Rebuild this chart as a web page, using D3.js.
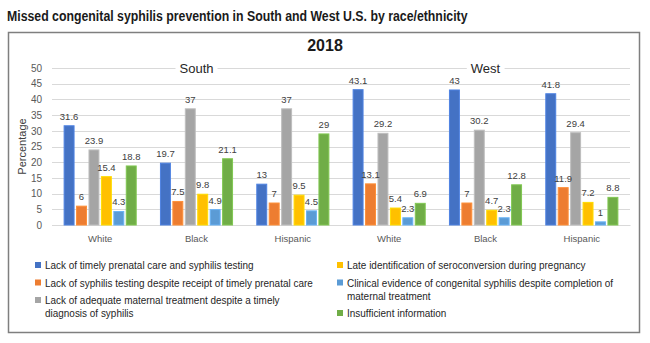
<!DOCTYPE html>
<html>
<head>
<meta charset="utf-8">
<script src="https://cdn.jsdelivr.net/npm/d3@7"></script>
<style>
  body { margin: 0; background: #ffffff; }
  svg { display: block; }
</style>
</head>
<body>
<div id="chart"></div>
<script>
const regions = ["South", "West"];
const races = ["White", "Black", "Hispanic"];
const yTicks = [0, 5, 10, 15, 20, 25, 30, 35, 40, 45, 50];

const seriesNames = [
  "Lack of timely prenatal care and syphilis testing",
  "Lack of syphilis testing despite receipt of timely prenatal care",
  "Lack of adequate maternal treatment despite a timely diagnosis of syphilis",
  "Late identification of seroconversion during pregnancy",
  "Clinical evidence of congenital syphilis despite completion of maternal treatment",
  "Insufficient information"
];
const seriesColors = ["#4472c4", "#ed7d31", "#a5a5a5", "#ffc000", "#5b9bd5", "#70ad47"];

// values per series, groups = South White, Black, Hispanic, West White, Black, Hispanic
const noPrenatalCare = [31.6, 19.7, 13, 43.1, 43, 41.8];
const noTesting = [6, 7.5, 7, 13.1, 7, 11.9];
const noTreatment = [23.9, 37, 37, 29.2, 30.2, 29.4];
const lateSeroconversion = [15.4, 9.8, 9.5, 5.4, 4.7, 7.2];
const clinicalEvidence = [4.3, 4.9, 4.5, 2.3, 2.3, 1];
const insufficientInfo = [18.8, 21.1, 29, 6.9, 12.8, 8.8];
const seriesValues = [noPrenatalCare, noTesting, noTreatment, lateSeroconversion, clinicalEvidence, insufficientInfo];

// legend lines (wrapped as in the original)
const legendLeft = [
  [0, ["Lack of timely prenatal care and syphilis testing"]],
  [1, ["Lack of syphilis testing despite receipt of timely prenatal care"]],
  [2, ["Lack of adequate maternal treatment despite a timely", "diagnosis of syphilis"]]
];
const legendRight = [
  [3, ["Late identification of seroconversion during pregnancy"]],
  [4, ["Clinical evidence of congenital syphilis despite completion of", "maternal treatment"]],
  [5, ["Insufficient information"]]
];

const W = 650, H = 343;
const plain = "'Liberation Sans', Arial, sans-serif";

const svg = d3.select("#chart").append("svg")
  .attr("width", W)
  .attr("height", H);

// Page title: no narrow font installed, so squeeze the regular one horizontally
const titleG = svg.append("g");
const title = titleG.append("text")
  .style("font-family", plain)
  .style("font-weight", "700")
  .style("font-size", "14.5px")
  .style("fill", "#1a1a1a")
  .text("Missed congenital syphilis prevention in South and West U.S. by race/ethnicity");
const titleSqueeze = 461 / title.node().getComputedTextLength();
titleG.attr("transform", `translate(7,21) scale(${titleSqueeze},1)`);

// Frame
svg.append("rect")
  .attr("x", 8.5)
  .attr("y", 32.5)
  .attr("width", 631)
  .attr("height", 300)
  .attr("fill", "none")
  .attr("stroke", "#7f7f7f")
  .attr("stroke-width", 1.5);

svg.append("text")
  .attr("x", 325)
  .attr("y", 51)
  .attr("text-anchor", "middle")
  .style("font-family", plain)
  .style("font-weight", "700")
  .style("font-size", "16px")
  .style("fill", "#1a1a1a")
  .text("2018");

// Scales
const groups = d3.range(regions.length * races.length);
const x0 = d3.scaleBand()
  .domain(groups)
  .range([52, 630])
  .paddingInner(0.2)
  .paddingOuter(0.1);

const x1 = d3.scaleBand()
  .domain(d3.range(seriesNames.length))
  .range([0, x0.bandwidth()])
  .padding(0.2);

const y = d3.scaleLinear()
  .domain([0, 50])
  .range([225, 68]);

// Gridlines
svg.append("g")
  .selectAll("line")
  .data(yTicks)
  .enter()
  .append("line")
  .attr("x1", 52)
  .attr("x2", 630)
  .attr("y1", d => Math.round(y(d)) + 0.5)
  .attr("y2", d => Math.round(y(d)) + 0.5)
  .attr("stroke", "#d9d9d9")
  .attr("stroke-width", 1);

// Y axis labels
const yAxis = svg.append("g")
  .attr("transform", "translate(52,0)")
  .call(d3.axisLeft(y).tickValues(yTicks).tickSize(0).tickPadding(10));
yAxis.select(".domain").remove();
yAxis.selectAll("text")
  .style("font-family", plain)
  .style("font-size", "10px")
  .style("fill", "#595959");

svg.append("text")
  .attr("transform", `translate(26,${(y(0) + y(50)) / 2}) rotate(-90)`)
  .attr("text-anchor", "middle")
  .style("font-family", plain)
  .style("font-size", "11px")
  .style("fill", "#404040")
  .text("Percentage");

// Region labels with white backing over the top gridline
const regionG = svg.append("g");
regions.forEach((r, i) => {
  const cx = x0(i * races.length + 1) + x0.bandwidth() / 2;
  const back = regionG.append("rect").attr("fill", "#ffffff");
  const t = regionG.append("text")
    .attr("x", cx)
    .attr("y", y(50) + 4.5)
    .attr("text-anchor", "middle")
    .style("font-family", plain)
    .style("font-size", "13px")
    .style("fill", "#262626")
    .text(r);
  const bb = t.node().getBBox();
  back.attr("x", bb.x - 4)
    .attr("y", bb.y)
    .attr("width", bb.width + 8)
    .attr("height", bb.height);
});

// X axis category labels
const xAxis = svg.append("g")
  .attr("transform", `translate(0,${y(0)})`)
  .call(d3.axisBottom(x0).tickSize(0).tickPadding(10)
    .tickFormat(d => races[d % races.length]));
xAxis.select(".domain").attr("stroke", "#d9d9d9");
xAxis.selectAll("text")
  .style("font-family", plain)
  .style("font-size", "9.5px")
  .style("fill", "#595959");

// Bars
const barData = [];
groups.forEach(g => {
  seriesValues.forEach((vals, s) => {
    barData.push({ g, s, v: vals[g] });
  });
});

svg.append("g")
  .selectAll("rect")
  .data(barData)
  .enter()
  .append("rect")
  .attr("x", d => x0(d.g) + x1(d.s))
  .attr("y", d => y(d.v))
  .attr("width", x1.bandwidth())
  .attr("height", d => y(0) - y(d.v))
  .attr("fill", d => seriesColors[d.s])
  .attr("stroke", d => d3.color(seriesColors[d.s]).brighter(0.4))
  .attr("stroke-width", 1);

// Data labels
svg.append("g")
  .selectAll("text")
  .data(barData)
  .enter()
  .append("text")
  .attr("x", d => x0(d.g) + x1(d.s) + x1.bandwidth() / 2)
  .attr("y", d => y(d.v) - 6)
  .attr("text-anchor", "middle")
  .style("font-family", plain)
  .style("font-size", "9.5px")
  .style("fill", "#404040")
  .text(d => d.v);

// Legend: condensed text, squeezed by the same factor everywhere
const legendG = svg.append("g");
const probe = legendG.append("text")
  .style("font-family", plain)
  .style("font-size", "11.5px")
  .text(legendLeft[1][1][0]);
const squeeze = 268 / probe.node().getComputedTextLength();
probe.remove();

const drawLegend = (items, sqX, startY) => {
  let yy = startY;
  items.forEach(([s, lines]) => {
    legendG.append("rect")
      .attr("x", sqX)
      .attr("y", yy - 3)
      .attr("width", 6)
      .attr("height", 6)
      .attr("fill", seriesColors[s]);
    lines.forEach((ln, i) => {
      legendG.append("g")
        .attr("transform", `translate(${sqX + 10},${yy + 4 + i * 13}) scale(${squeeze},1)`)
        .append("text")
        .style("font-family", plain)
        .style("font-size", "11.5px")
        .style("fill", "#262626")
        .text(ln);
    });
    yy += lines.length * 13 + 4.5;
  });
};
drawLegend(legendLeft, 35, 265);
drawLegend(legendRight, 337, 265);
</script>
</body>
</html>
